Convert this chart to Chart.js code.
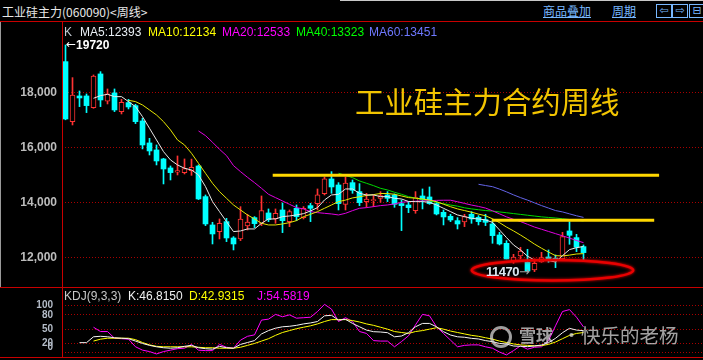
<!DOCTYPE html>
<html>
<head>
<meta charset="utf-8">
<script src="https://cdn.jsdelivr.net/npm/chart.js@4.4.0/dist/chart.umd.min.js"></script>
<style>
  html, body { margin: 0; padding: 0; background: #000; width: 703px; height: 360px; overflow: hidden; }
  body { position: relative; font-family: "Liberation Sans", Arial, sans-serif; }
  .t { position: absolute; white-space: nowrap; line-height: 14px; font-size: 12px; }
  .cjk { font-family: "Noto Sans CJK SC", sans-serif; }
  .rule { position: absolute; background: #c80000; }
  .btn { position: absolute; top: 4px; width: 14px; height: 12px; border: 1px solid #78b8ff; color: #78b8ff;
         font: 11px "DejaVu Sans", sans-serif; line-height: 12px; text-align: center; }
  canvas { position: absolute; left: 0; }
  .over { z-index: 5; }
</style>
</head>
<body>

<!-- header -->
<div class="rule" style="left:340px;top:0;width:363px;height:1px;background:#c8c8c8"></div>
<div class="t cjk over" style="left:2px;top:5px;color:#e8e8e8">工业硅主力(060090)&lt;周线&gt;</div>
<div class="t cjk over" style="left:543px;top:4px;color:#78b8ff;text-decoration:underline">商品叠加</div>
<div class="t cjk over" style="left:612px;top:4px;color:#78b8ff;text-decoration:underline">周期</div>
<div class="btn over" style="left:656px">⇦</div>
<div class="btn over" style="left:672px">⇨</div>
<div class="btn over" style="left:689px">⊟</div>

<canvas id="priceChart" width="703" height="265" style="top:22px"></canvas>
<canvas id="kdjChart" width="703" height="69" style="top:288px"></canvas>

<!-- frame -->
<div class="rule over" style="left:0;top:21px;width:703px;height:1px"></div>
<div class="rule over" style="left:0;top:287px;width:703px;height:1px"></div>
<div class="rule over" style="left:0;top:357px;width:703px;height:1px"></div>
<div class="rule over" style="left:62px;top:21px;width:1px;height:337px"></div>
<div class="rule over" style="left:0;top:22px;width:1px;height:265px;background:#9a9a9a"></div>

<!-- MA legend -->
<div class="t over" style="left:64px;top:25px;color:#c4ccd4">K</div>
<div class="t over" style="left:80px;top:25px;color:#e8eef4">MA5:12393</div>
<div class="t over" style="left:148px;top:25px;color:#ffff00">MA10:12134</div>
<div class="t over" style="left:222px;top:25px;color:#ff00ff">MA20:12533</div>
<div class="t over" style="left:296px;top:25px;color:#00ff00">MA40:13323</div>
<div class="t over" style="left:369px;top:25px;color:#6e78ff">MA60:13451</div>

<div class="t over" style="left:66px;top:38px;color:#fff;font-weight:bold"><span style="font-weight:normal;font-family:'DejaVu Sans';position:relative;top:-1px">←</span>19720</div>

<div class="t cjk over" style="left:355px;top:86px;font-size:29.4px;line-height:29.4px;color:#f2c400">工业硅主力合约周线</div>

<div class="t over" style="left:486px;top:264px;font-size:13px;line-height:15px;color:#dde6f0;font-weight:bold;letter-spacing:-0.5px">11470<span style="color:#a0a0a0;font-weight:normal;font-family:'DejaVu Sans';letter-spacing:0">→</span></div>

<!-- KDJ legend -->
<div class="t over" style="left:64px;top:289px;color:#c8c8c8">KDJ(9,3,3)</div>
<div class="t over" style="left:128px;top:289px;color:#f0f0f0">K:46.8150</div>
<div class="t over" style="left:189px;top:289px;color:#ffff00">D:42.9315</div>
<div class="t over" style="left:257px;top:289px;color:#ff00ff">J:54.5819</div>

<!-- watermark -->
<div class="over" style="position:absolute;left:490px;top:326px;width:16px;height:16px;border:3px solid rgba(225,225,225,0.7);border-radius:50%"></div>
<div class="t cjk over" style="left:519px;top:325px;font-size:17px;line-height:20px;font-weight:bold;color:rgba(225,225,225,0.72)">雪球</div>
<div class="t cjk over" style="left:562px;top:325px;font-size:19px;line-height:20px;color:rgba(225,225,225,0.72)">·</div>
<div class="t cjk over" style="left:581px;top:325px;font-size:19.5px;line-height:20px;color:rgba(225,225,225,0.72)">快乐的老杨</div>

<script>
// weekly candles, index 0 = first week
const openP = [19115, 16933, 17867, 17867, 17442, 18667, 17673, 17976, 17297, 17624,
  17515, 16958, 16158, 15903, 15576, 15249, 15091, 15079, 15150, 15321,
  14206, 13176, 12934, 13297, 12703, 12667, 13140, 13442, 13236, 13612,
  13406, 13721, 13297, 13782, 13442, 13879, 13952, 14315, 14849, 14630,
  13927, 14715, 14388, 14024, 14060, 14145, 14267, 14267, 13952, 13903,
  13697, 14230, 14194, 13952, 13636, 13491, 13333, 13285, 13564, 13455,
  13370, 13212, 12812, 12509, 11867, 12048, 11818, 11539, 11830, 12012,
  11964, 11940, 12958, 12715, 12388];
const highP = [19720, 18533, 18048, 17940, 18630, 18751, 18121, 18121, 17745, 17745,
  17564, 17055, 16327, 16085, 15600, 15321, 15685, 15576, 15570, 15360,
  14267, 13273, 13394, 13418, 12752, 13842, 13564, 13479, 14230, 13758,
  13758, 13976, 13721, 13903, 13842, 13964, 14485, 14921, 15115, 14715,
  14921, 14812, 14679, 14327, 14267, 14388, 14388, 14303, 14085, 14024,
  14388, 14485, 14558, 14024, 13721, 13564, 13442, 13564, 13661, 13515,
  13564, 13333, 12909, 12606, 12109, 12364, 12291, 11940, 12182, 12267,
  12085, 12909, 13297, 12836, 12449];
const lowP = [17000, 16812, 17479, 17261, 17418, 17479, 17576, 17297, 17212, 17394,
  16861, 15940, 15721, 15358, 14667, 14812, 14994, 15030, 14980, 14100,
  13152, 12485, 12667, 12570, 12267, 12606, 12994, 13079, 13152, 13297,
  13236, 12897, 13115, 13333, 13394, 13297, 13721, 14267, 14327, 13721,
  13721, 14327, 13879, 13818, 13842, 14000, 14024, 13818, 12970, 13624,
  13600, 13758, 13927, 13540, 13176, 13297, 13030, 13115, 13236, 13176,
  13152, 12509, 12449, 11940, 11782, 11940, 11470, 11479, 11818, 11818,
  11624, 11940, 12473, 12206, 11879];
const closeP = [17030, 17903, 17794, 17515, 18594, 17721, 17940, 17358, 17636, 17467,
  16933, 16085, 15867, 15503, 15212, 15079, 15152, 15224, 15270, 14122,
  13213, 12849, 13236, 12703, 12485, 13394, 13285, 13224, 13697, 13370,
  13600, 13333, 13661, 13479, 13782, 13782, 14267, 14849, 14558, 13952,
  14703, 14436, 13988, 14121, 14073, 14242, 14145, 13927, 13879, 13806,
  14170, 14097, 13952, 13576, 13467, 13358, 13212, 13479, 13394, 13297,
  13273, 12788, 12485, 11940, 12012, 12230, 11503, 11782, 11988, 11915,
  11903, 12752, 12800, 12364, 12170];

// moving averages (first week index given by *Start)
const ma5Start = 4;
const ma5 = [17782, 17879, 17927, 17842, 17842, 17661, 17479, 17115, 16691, 16267,
  15843, 15540, 15358, 15237, 15176, 14994, 14570, 14025, 13661, 13297,
  12934, 12958, 13031, 13031, 13237, 13394, 13394, 13479, 13503, 13540,
  13588, 13685, 13806, 14085, 14267, 14291, 14485, 14485, 14327, 14267,
  14267, 14206, 14206, 14146, 14121, 14030, 14024, 14024, 14000, 13903,
  13782, 13661, 13540, 13479, 13418, 13394, 13360, 13270, 12994, 12716,
  12449, 12267, 12040, 11900, 11900, 11880, 11830, 12060, 12280, 12350, 12393];
const ma10Start = 9;
const ma10 = [17709, 17661, 17539, 17358, 17176, 16933, 16630, 16267, 16085, 15782,
  15418, 15055, 14691, 14388, 14145, 13903, 13721, 13540, 13394, 13237,
  13176, 13176, 13212, 13261, 13334, 13479, 13564, 13661, 13782, 13903,
  14025, 14080, 14160, 14200, 14250, 14280, 14320, 14320, 14291, 14230,
  14170, 14150, 14120, 14080, 14020, 13930, 13840, 13760, 13700, 13640,
  13570, 13510, 13400, 13260, 13100, 12960, 12810, 12650, 12480, 12330,
  12190, 12060, 12050, 12080, 12120, 12134];
const ma20Start = 19;
const ma20 = [16594, 16424, 16182, 15927, 15697, 15334, 15115, 14909, 14715, 14509,
  14291, 14170, 14049, 13927, 13806, 13758, 13661, 13624, 13600, 13576,
  13540, 13600, 13697, 13782, 13806, 13842, 13879, 13903, 13940, 14000,
  14024, 14040, 14050, 14060, 14070, 14075, 14075, 14020, 13960, 13900,
  13850, 13790, 13690, 13580, 13470, 13380, 13300, 13200, 13100, 13020,
  12940, 12860, 12780, 12700, 12610, 12533];
const ma40Start = 39;
const ma40 = [15055, 14980, 14897, 14776, 14691, 14606, 14509, 14449, 14364, 14291,
  14206, 14150, 14100, 14050, 14000, 13950, 13900, 13860, 13800, 13760,
  13730, 13700, 13680, 13650, 13620, 13590, 13560, 13530, 13500, 13470,
  13450, 13430, 13400, 13375, 13350, 13323];
const ma60Start = 59;
const ma60 = [14655, 14610, 14568, 14480, 14380, 14270, 14170, 14080, 13980, 13880,
  13790, 13700, 13650, 13580, 13510, 13451];

// KDJ(9,3,3)
const kStart = 2;
const kLine = [21.7, 21.7, 34, 35, 34, 32, 31, 30,
  25, 20, 16, 13, 11, 10, 11, 14, 16, 11,
  9, 8, 14, 11, 10, 18, 22, 26, 40, 47,
  52, 55, 56, 58, 61, 63, 66, 78, 79, 69,
  70.6, 62, 55, 48, 44.7, 44, 42.6, 34, 35.6, 42.6,
  55, 62, 62, 55, 44.7, 37.7, 34, 33, 30.7, 29.4,
  26, 23.8, 20, 18.9, 14.7, 14, 13.3, 14.7, 16.8, 21.7,
  30.7, 42.6, 51.7, 48, 46.815];
const dStart = 4;
const dLine = [25, 29, 31, 31, 31, 31,
  28, 22, 17, 14, 13, 13, 13, 13, 13, 12,
  11, 11, 10, 10, 10, 12, 16, 20, 25, 30,
  37, 43, 47, 51, 54, 57, 61, 66, 70, 70,
  70, 68, 65, 61, 58, 54, 50, 45, 43, 41,
  45, 47, 50, 53, 50, 46, 43, 40, 37, 35,
  32, 29, 25, 22, 19, 17, 16, 15, 15.5, 18,
  23, 30, 37, 41, 42.9315];
const jStart = 4;
const jLine = [54, 45, 45, 31, 30, 29,
  13, 6, 3, -2, 3, 6, 9, 10, 18, 6,
  5, 5, 18, 12, 10, 27, 35, 38, 69, 71,
  81, 76, 80, 73, 74, 75, 87, 102, 92, 66,
  74, 66, 45, 41, 26, 25, 25, 13, 24, 36,
  59, 81, 78, 55, 41, 27, 13, 16, 17, 17,
  13, 10, 2, -4, 5, 15, 8, 12, 13, 26,
  57, 87, 91, 75, 54.5819];

const priceTicks = [12000, 14000, 16000, 18000];
const kdjTicks = [0, 20, 50, 80, 100];

// hand-drawn support / resistance lines (week index range, price)
const levelPrice = [14980, 13350];
const levelFrom = [29.6, 60.9];
const levelTo = [84.8, 84.1];

// circled low
const ringWeek = 69.57, ringPrice = 11528, ringWeeks = 11.54, ringSpan = 375;

const UP = '#ff3232', DOWN = '#00ffff';
const X_MIN = -0.5, X_MAX = -0.5 + 641 / 7;

const isUp = i => closeP[i] >= openP[i];
const series = (arr, start) => arr.map((v, k) => ({ x: start + k, y: v }));

function lineSet(data, color, width, order) {
  return { type: 'line', data: data, borderColor: color, borderWidth: width || 1,
    pointRadius: 0, tension: 0, fill: false, order: order || 0 };
}

function yAxisFit(axis) {
  axis.width = 62;
  axis.paddingTop = 0;
  axis.paddingBottom = 0;
}

let datasets = [];
for (let n = 0; n < levelPrice.length; n++) {
  datasets.push(lineSet([{ x: levelFrom[n], y: levelPrice[n] }, { x: levelTo[n], y: levelPrice[n] }], '#ffd700', 3, -1));
}
datasets.push(lineSet(series(ma5, ma5Start), '#e8e8e8'));
datasets.push(lineSet(series(ma10, ma10Start), '#e6e600'));
datasets.push(lineSet(series(ma20, ma20Start), '#e000e0'));
datasets.push(lineSet(series(ma40, ma40Start), '#00d800'));
datasets.push(lineSet(series(ma60, ma60Start), '#6464e8'));

datasets.push({
  type: 'bar',
  data: openP.map((o, i) => ({ x: i, y: [o, closeP[i]] })),
  backgroundColor: openP.map((o, i) => isUp(i) ? '#000' : DOWN),
  borderColor: openP.map((o, i) => isUp(i) ? UP : DOWN),
  borderWidth: openP.map((o, i) => isUp(i) ? 1 : 0),
  borderSkipped: false,
  barThickness: 5,
  minBarLength: 1,
  grouped: false,
  order: 1
});
datasets.push({
  type: 'bar',
  data: lowP.map((l, i) => ({ x: i, y: [l, highP[i]] })),
  backgroundColor: lowP.map((l, i) => isUp(i) ? UP : DOWN),
  borderWidth: 0,
  barThickness: 1,
  grouped: false,
  order: 2
});

const ringPlugin = {
  id: 'ring',
  afterDatasetsDraw(chart) {
    const { ctx, scales: { x, y } } = chart;
    const cx = x.getPixelForValue(ringWeek);
    const cy = y.getPixelForValue(ringPrice);
    const rx = x.getPixelForValue(ringWeek + ringWeeks) - cx;
    const ry = cy - y.getPixelForValue(ringPrice + ringSpan);
    ctx.save();
    ctx.strokeStyle = '#e80000';
    ctx.lineWidth = 2.5;
    ctx.shadowColor = '#ff0000';
    ctx.shadowBlur = 3;
    ctx.beginPath();
    ctx.ellipse(cx, cy, rx, ry, 0, 0, Math.PI * 2);
    ctx.stroke();
    ctx.restore();
  }
};

new Chart(document.getElementById('priceChart'), {
  type: 'bar',
  data: { datasets: datasets },
  plugins: [ringPlugin],
  options: {
    responsive: false,
    animation: false,
    layout: { padding: 0, autoPadding: false },
    plugins: { legend: { display: false }, tooltip: { enabled: false } },
    scales: {
      x: { type: 'linear', display: false, min: X_MIN, max: X_MAX, offset: false },
      y: {
        min: 10920, max: 20556,
        afterFit: yAxisFit,
        afterBuildTicks: axis => { axis.ticks = priceTicks.map(v => ({ value: v })); },
        grid: { color: '#a80000', drawTicks: false },
        border: { display: false, dash: [1, 2] },
        ticks: { color: '#bcbcbc', padding: 5, autoSkip: false,
          font: { family: 'Liberation Sans', size: 12, weight: 'bold' } }
      }
    }
  }
});

new Chart(document.getElementById('kdjChart'), {
  type: 'line',
  data: {
    datasets: [
      lineSet(series(kLine, kStart), '#f4f4f4'),
      lineSet(series(dLine, dStart), '#ffff00'),
      lineSet(series(jLine, jStart), '#ff00ff')
    ]
  },
  options: {
    responsive: false,
    animation: false,
    layout: { padding: 0, autoPadding: false },
    plugins: { legend: { display: false }, tooltip: { enabled: false } },
    scales: {
      x: { type: 'linear', display: false, min: X_MIN, max: X_MAX },
      y: {
        min: -8.4, max: 136.3,
        afterFit: yAxisFit,
        afterBuildTicks: axis => { axis.ticks = kdjTicks.map(v => ({ value: v })); },
        grid: { color: '#a80000', drawTicks: false },
        border: { display: false, dash: [1, 2] },
        ticks: {
          color: '#b4bcc8', padding: 9, autoSkip: false,
          font: { family: 'Liberation Sans', size: 10, weight: 'bold' },
          callback: v => v === 0 ? ['0', ''] : String(v)
        }
      }
    }
  }
});
</script>
</body>
</html>
